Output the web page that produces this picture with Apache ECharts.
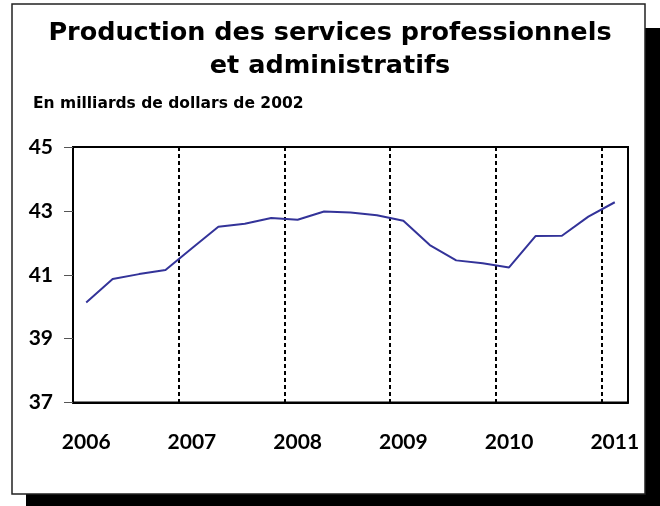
<!DOCTYPE html>
<html>
<head>
<meta charset="utf-8">
<script src="https://cdn.jsdelivr.net/npm/echarts@6/dist/echarts.min.js"></script>
<style>
  html, body { margin: 0; padding: 0; background: #fff; }
  #chart { width: 660px; height: 506px; }
</style>
</head>
<body>
<div id="chart"></div>
<script>
// trimestres 2006T1 .. 2011T1
const quarters = [
  '2006T1', '2006T2', '2006T3', '2006T4',
  '2007T1', '2007T2', '2007T3', '2007T4',
  '2008T1', '2008T2', '2008T3', '2008T4',
  '2009T1', '2009T2', '2009T3', '2009T4',
  '2010T1', '2010T2', '2010T3', '2010T4',
  '2011T1'
]
const production = [
  40.13, 40.87, 41.02, 41.15,
  41.83, 42.50, 42.60, 42.78,
  42.72, 42.98, 42.95, 42.86,
  42.69, 41.93, 41.45, 41.36,
  41.23, 42.21, 42.22, 42.82,
  43.27
]
const yTicks = [37, 39, 41, 43, 45]

const labelFont = 'Lato, sans-serif'
const titleFont = '"DejaVu Sans", sans-serif'

const chart = echarts.init(document.getElementById('chart'))
chart.setOption({
  animation: false,
  title: {
    text: 'Production des services professionnels\net administratifs',
    left: 330,
    top: 17,
    padding: 0,
    textAlign: 'center',
    textStyle: {
      fontFamily: titleFont,
      fontWeight: 'bold',
      fontSize: 25.5,
      lineHeight: 33,
      color: '#000'
    }
  },
  graphic: [
    {
      type: 'rect',
      z: -10,
      shape: { x: 26, y: 28, width: 634, height: 478 },
      style: { fill: '#000' }
    },
    {
      type: 'rect',
      z: -9,
      shape: { x: 12, y: 4, width: 633, height: 490 },
      style: { fill: '#fff', stroke: '#222', lineWidth: 1.5 }
    },
    {
      type: 'text',
      z: 10,
      left: 33,
      top: 96,
      style: {
        text: 'En milliards de dollars de 2002',
        fontFamily: titleFont,
        fontWeight: 'bold',
        fontSize: 15.5,
        fill: '#000'
      }
    }
  ],
  grid: {
    left: 73,
    right: 32,
    top: 147,
    bottom: 103.5,
    show: true,
    borderColor: '#000',
    borderWidth: 2,
    backgroundColor: 'transparent'
  },
  xAxis: {
    type: 'category',
    data: quarters,
    boundaryGap: true,
    axisLine: { lineStyle: { color: '#000', width: 2 } },
    axisTick: { show: false },
    axisLabel: {
      interval: (i) => i % 4 === 0,
      formatter: (v) => v.slice(0, 4),
      margin: 29,
      fontFamily: labelFont,
      fontWeight: 'bold',
      fontSize: 21,
      color: '#000'
    },
    splitLine: {
      show: true,
      interval: (i) => i > 0 && i % 4 === 0,
      lineStyle: { color: '#000', width: 2, type: [4, 3] }
    }
  },
  yAxis: {
    type: 'value',
    min: yTicks[0],
    max: yTicks[yTicks.length - 1],
    interval: 2,
    axisLine: { show: true, lineStyle: { color: '#000', width: 2 } },
    axisTick: { show: true, length: 9, lineStyle: { color: '#555', width: 1 } },
    axisLabel: {
      margin: 20,
      fontFamily: labelFont,
      fontWeight: 'bold',
      fontSize: 21,
      color: '#000'
    },
    splitLine: { show: false }
  },
  series: [
    {
      name: 'Production',
      type: 'line',
      data: production,
      showSymbol: false,
      lineStyle: { color: '#333399', width: 2 },
      z: 5
    }
  ]
})
</script>
</body>
</html>
